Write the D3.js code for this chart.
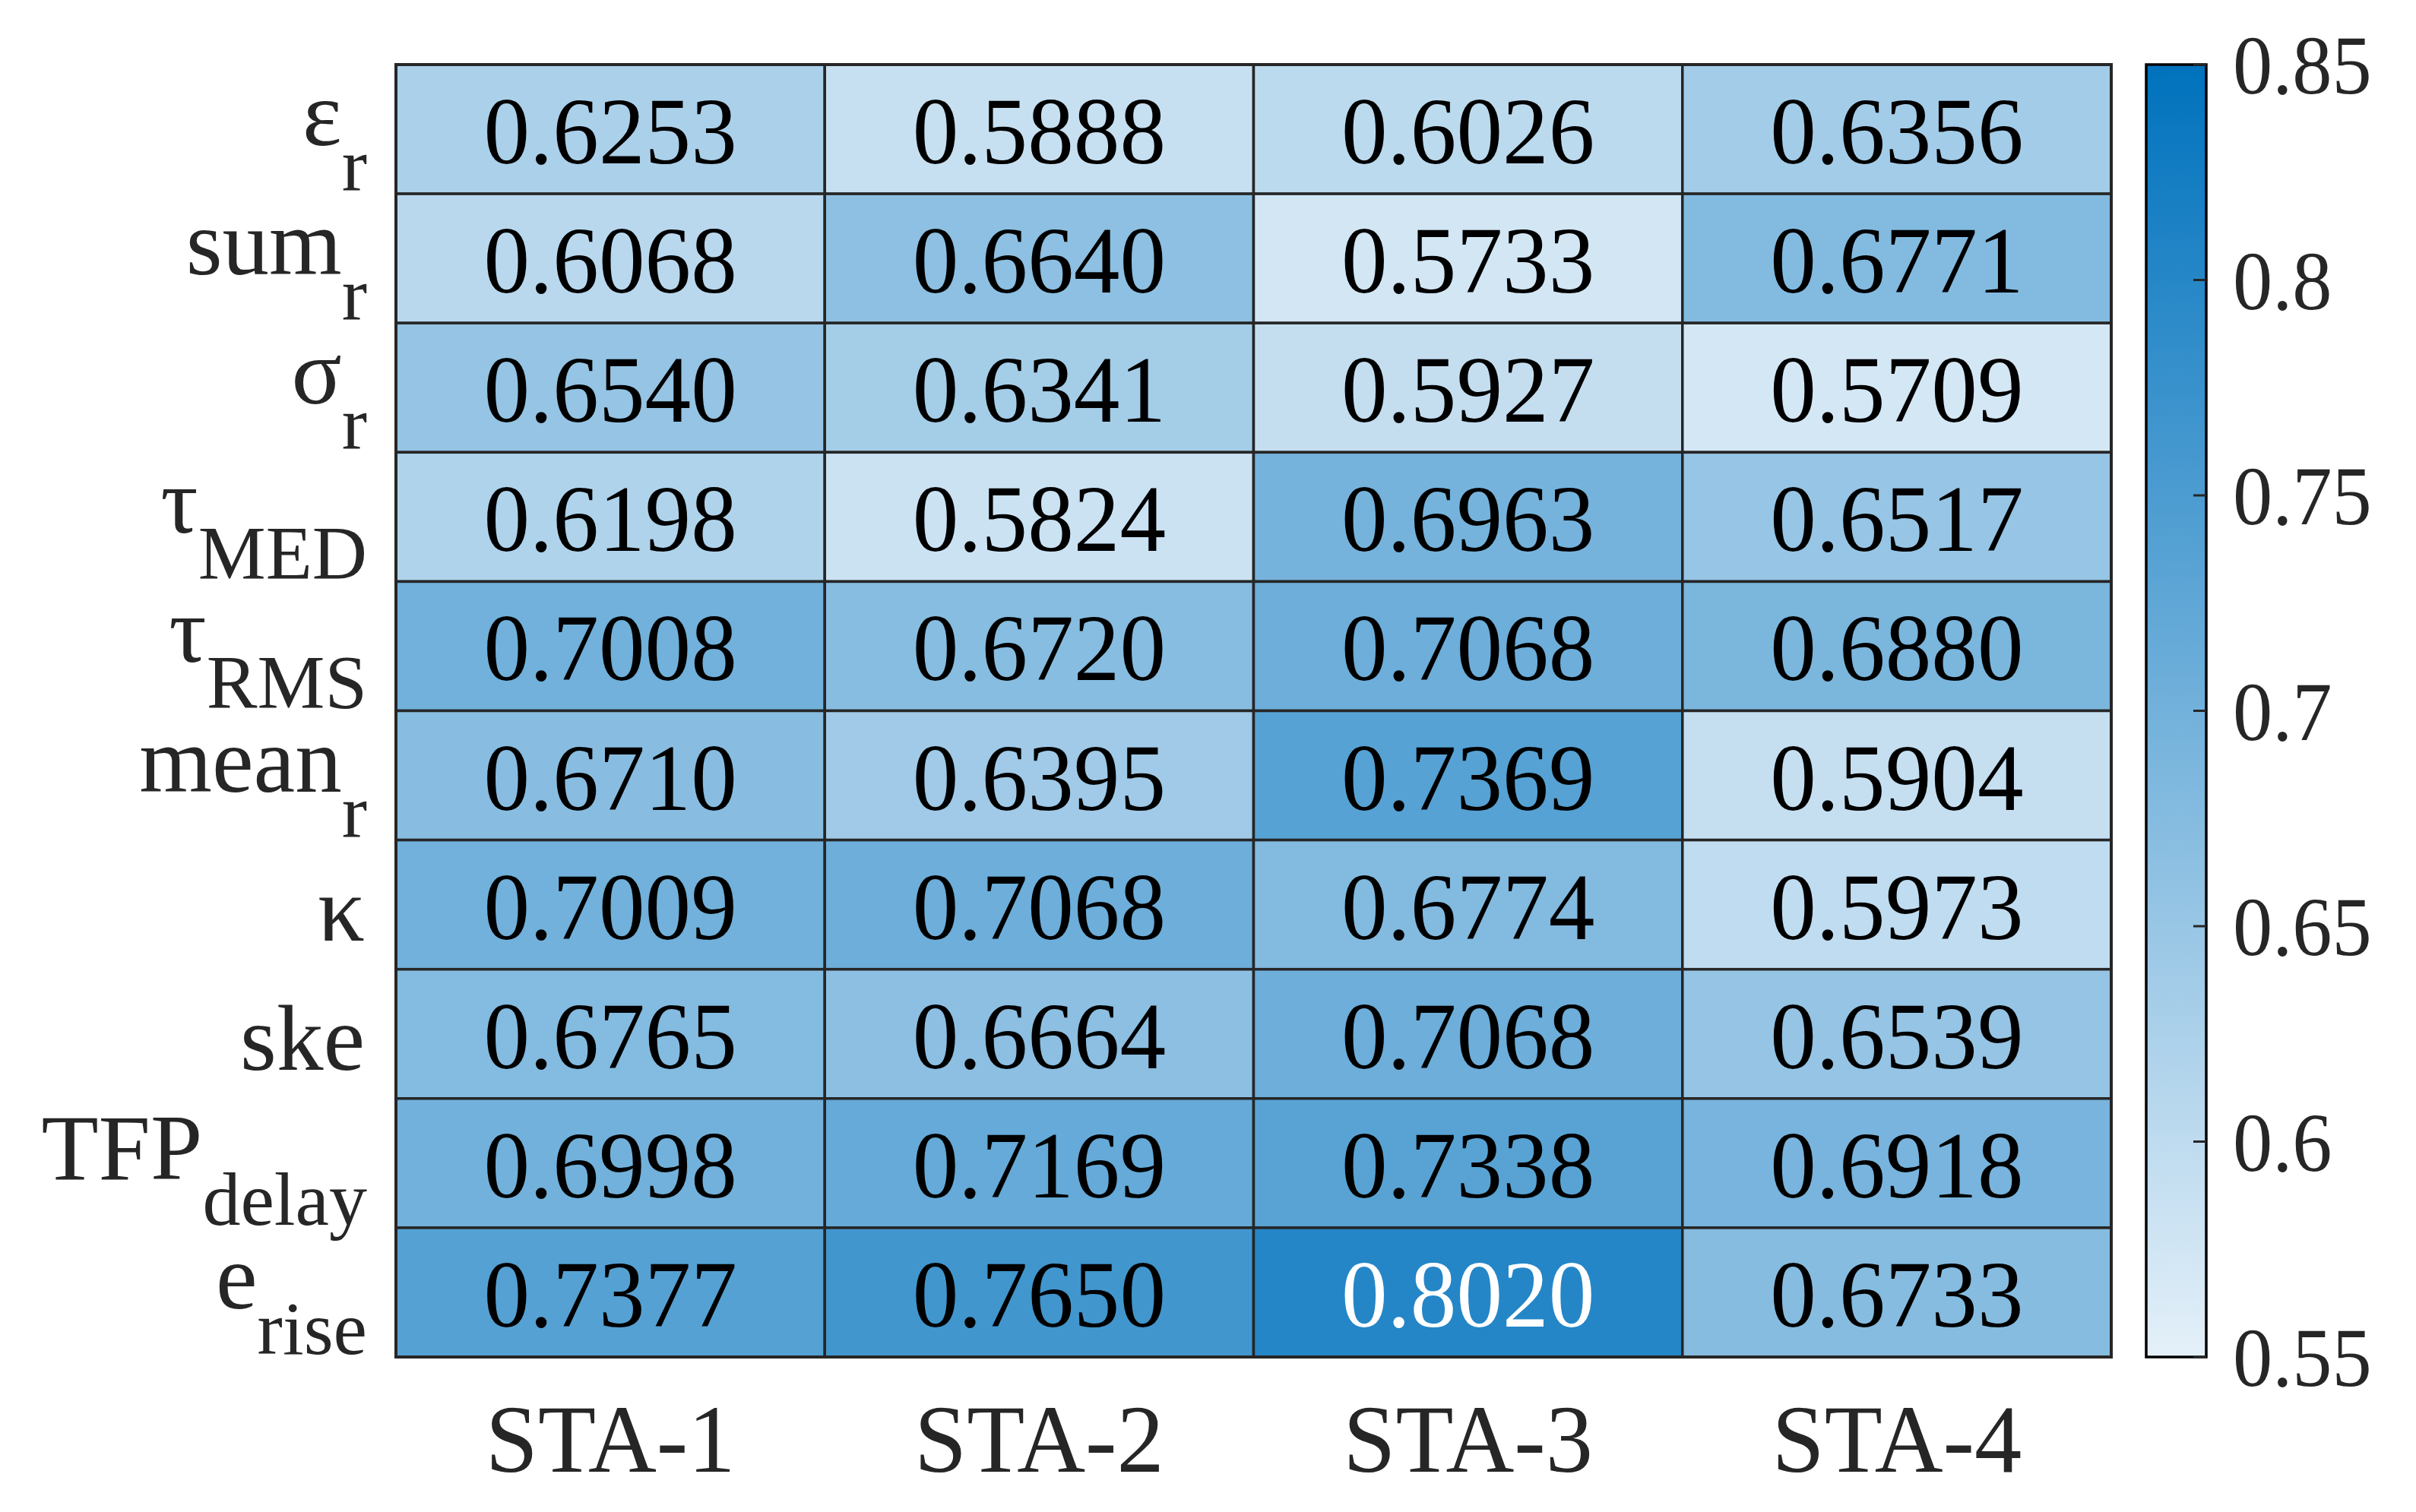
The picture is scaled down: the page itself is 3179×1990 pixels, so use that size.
<!DOCTYPE html>
<html>
<head>
<meta charset="utf-8">
<script src="https://cdn.jsdelivr.net/npm/d3@7"></script>
<style>
  html, body { margin: 0; padding: 0; background: #fff; }
  svg { display: block; }
  text { font-family: "Liberation Serif", "Times New Roman", serif; }
</style>
</head>
<body>
<svg id="chart"></svg>
<script>
// stations along x
let stations = ["STA-1", "STA-2", "STA-3", "STA-4"];
// row labels: main text + subscript
let rowMain = ["\u03b5", "sum", "\u03c3", "\u03c4", "\u03c4", "mean", "\u03ba", "ske", "TFP", "e"];
let rowSub  = ["r", "r", "r", "MED", "RMS", "r", "", "", "delay", "rise"];
// values, one array per row (same order as the labels)
let vals = [
    [0.6253, 0.5888, 0.6026, 0.6356],
    [0.6068, 0.6640, 0.5733, 0.6771],
    [0.6540, 0.6341, 0.5927, 0.5709],
    [0.6198, 0.5824, 0.6963, 0.6517],
    [0.7008, 0.6720, 0.7068, 0.6880],
    [0.6710, 0.6395, 0.7369, 0.5904],
    [0.7009, 0.7068, 0.6774, 0.5973],
    [0.6765, 0.6664, 0.7068, 0.6539],
    [0.6998, 0.7169, 0.7338, 0.6918],
    [0.7377, 0.7650, 0.8020, 0.6733]
];
let cbTicks = [0.55, 0.6, 0.65, 0.7, 0.75, 0.8, 0.85];
let cbLabels = ["0.55", "0.6", "0.65", "0.7", "0.75", "0.8", "0.85"];

var W = 3179, H = 1990;
var svg = d3.select("#chart").attr("width", W).attr("height", H);

// plot box (window.top is reserved, so use other names)
var pL = 521, pR = 2778, pT = 85, pB = 1786;

var rowIdx = d3.range(rowMain.length);
var x = d3.scaleBand().domain(stations).range([pL, pR]);
var y = d3.scaleBand().domain(rowIdx).range([pT, pB]);
var color = d3.scaleLinear().domain([0.55, 0.85]).range(["#e4f0f9", "#0072bd"]);

var cells = [];
vals.forEach(function(row, i) {
    row.forEach(function(v, j) {
        cells.push({r: i, c: stations[j], v: v});
    });
});

var g = svg.append("g");

g.selectAll(".cell")
    .data(cells).enter().append("rect")
    .attr("class", "cell")
    .attr("x", function(d) { return x(d.c); })
    .attr("y", function(d) { return y(d.r); })
    .attr("width", x.bandwidth())
    .attr("height", y.bandwidth())
    .attr("fill", function(d) { return color(d.v); })
    .attr("stroke", "#262626")
    .attr("stroke-width", 3.5);

// outer frame
g.append("rect")
    .attr("x", pL).attr("y", pT)
    .attr("width", pR - pL).attr("height", pB - pT)
    .attr("fill", "none").attr("stroke", "#262626").attr("stroke-width", 4);

function lum(v) {
    var c = d3.rgb(color(v));
    return (0.299 * c.r + 0.587 * c.g + 0.114 * c.b) / 255;
}

g.selectAll(".val")
    .data(cells).enter().append("text")
    .attr("class", "val")
    .attr("transform", function(d) {
        return "translate(" + (x(d.c) + x.bandwidth() / 2) + "," + (y(d.r) + y.bandwidth() / 2 + 45) + ") scale(0.97,1)";
    })
    .attr("text-anchor", "middle")
    .attr("font-size", 125)
    .attr("fill", function(d) { return lum(d.v) < 0.5 ? "#ffffff" : "#000000"; })
    .text(function(d) { return d.v.toFixed(4); });

// column labels
g.selectAll(".colLab")
    .data(stations).enter().append("text")
    .attr("class", "colLab")
    .attr("transform", function(d) {
        return "translate(" + (x(d) + x.bandwidth() / 2) + ",1937) scale(0.98,1)";
    })
    .attr("text-anchor", "middle")
    .attr("font-size", 127)
    .attr("fill", "#262626")
    .text(function(d) { return d; });

// row labels with subscripts
var rl = g.selectAll(".rowLab")
    .data(rowIdx).enter().append("text")
    .attr("class", "rowLab")
    .attr("x", function(i) { return rowSub[i] ? 483 : 480; })
    .attr("y", function(i) { return y(i) + y.bandwidth() / 2 + (rowSub[i] ? 21 : 47); })
    .attr("text-anchor", "end")
    .attr("fill", "#262626");

rl.append("tspan")
    .attr("font-size", 123)
    .text(function(i) { return rowMain[i]; });

rl.filter(function(i) { return rowSub[i] !== ""; })
    .append("tspan")
    .attr("font-size", 100)
    .attr("dy", 60)
    .text(function(i) { return rowSub[i]; });

// colorbar
var cbX0 = 2824, cbX1 = 2903;
var cy = d3.scaleLinear().domain([0.55, 0.85]).range([pB, pT]);

var grad = svg.append("defs").append("linearGradient")
    .attr("id", "cbGrad")
    .attr("x1", 0).attr("y1", 1).attr("x2", 0).attr("y2", 0);
grad.selectAll("stop")
    .data(cbTicks).enter().append("stop")
    .attr("offset", function(d) { return (d - 0.55) / 0.3; })
    .attr("stop-color", function(d) { return color(d); });

svg.append("rect")
    .attr("x", cbX0).attr("y", pT)
    .attr("width", cbX1 - cbX0).attr("height", pB - pT)
    .attr("fill", "url(#cbGrad)")
    .attr("stroke", "#000").attr("stroke-width", 3.5);

svg.selectAll(".cbTick")
    .data(cbTicks).enter().append("line")
    .attr("class", "cbTick")
    .attr("x1", cbX1 - 17).attr("x2", cbX1)
    .attr("y1", function(d) { return cy(d); })
    .attr("y2", function(d) { return cy(d); })
    .attr("stroke", "#262626").attr("stroke-width", 3);

svg.selectAll(".cbLab")
    .data(cbTicks).enter().append("text")
    .attr("class", "cbLab")
    .attr("transform", function(d) {
        return "translate(2938," + (cy(d) + 38) + ") scale(0.95,1)";
    })
    .attr("font-size", 110)
    .attr("fill", "#262626")
    .text(function(d, i) { return cbLabels[i]; });
</script>
</body>
</html>
